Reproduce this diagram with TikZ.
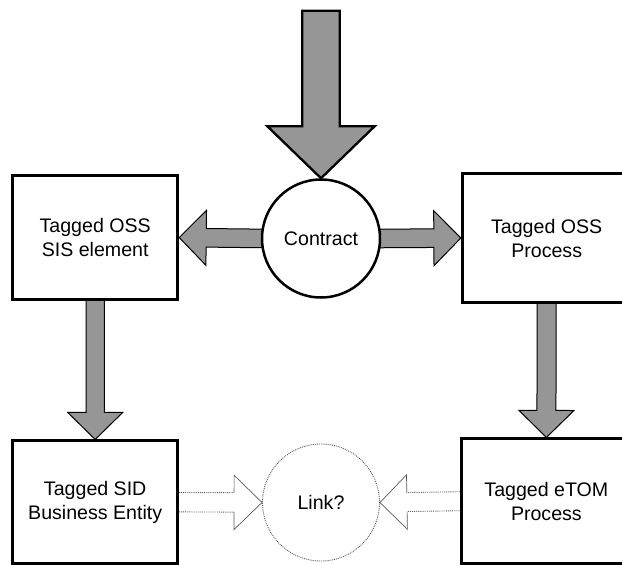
\documentclass[tikz,border=0pt]{standalone}
\usepackage{fontspec}
\setmainfont{Liberation Sans}
\usetikzlibrary{calc,backgrounds}
\definecolor{arrowgray}{RGB}{150,150,150}
\definecolor{dotgray}{RGB}{90,90,90}
\newcommand\labelfont{\fontsize{19.6pt}{24pt}\selectfont}
% #1 style, #2 from, #3 to, #4 shaft half width, #5 head half width, #6 head length
\newcommand\blockarrow[6]{%
  \path[#1] let \p1=(#2), \p2=(#3),
     \n1={atan2(\y2-\y1,\x2-\x1)}, \n2={veclen(\x2-\x1,\y2-\y1)} in
     [shift={(\p1)}, rotate=\n1]
     (0,-#4) -- (\n2-#6,-#4) -- (\n2-#6,-#5) -- (\n2,0) -- (\n2-#6,#5) -- (\n2-#6,#4) -- (0,#4) -- cycle;}
\newcommand\hollowarrow[5]{%
  \path[hollowshaft] let \p1=(#1), \p2=(#2),
     \n1={atan2(\y2-\y1,\x2-\x1)}, \n2={veclen(\x2-\x1,\y2-\y1)} in
     [shift={(\p1)}, rotate=\n1]
     (0,-#3) -- (\n2-#5,-#3) (0,#3) -- (\n2-#5,#3);
  \path[hollowhead] let \p1=(#1), \p2=(#2),
     \n1={atan2(\y2-\y1,\x2-\x1)}, \n2={veclen(\x2-\x1,\y2-\y1)} in
     [shift={(\p1)}, rotate=\n1]
     (\n2-#5,-#3) -- (\n2-#5,-#4) -- (\n2,0) -- (\n2-#5,#4) -- (\n2-#5,#3);}
\begin{document}
\begin{tikzpicture}[x=1pt,y=-1pt,
  box/.style={draw=black, line width=3pt, fill=white, inner sep=0pt,
    align=center, font=\labelfont},
  bigarrow/.style={draw=black, fill=arrowgray, line width=2.3pt, line join=miter},
  medarrow/.style={draw=black, fill=arrowgray, line width=1pt, line join=miter},
  hollowshaft/.style={draw=dotgray, densely dotted, line width=0.9pt},
  hollowhead/.style={draw=dotgray, line width=0.7pt, line join=miter},
  contractnode/.style={circle, draw=black, line width=2.5pt, fill=white,
    minimum size=118pt, inner sep=0pt, font=\labelfont},
  linknode/.style={circle, draw=dotgray, densely dotted, line width=0.9pt,
    fill=white, minimum size=117pt, inner sep=0pt, font=\labelfont}]
\useasboundingbox (0,0) rectangle (622,565);

\node[box, minimum width=165pt, minimum height=123.6pt] (sis) at (95.2,237.5)
  {Tagged OSS\\SIS element};
\node[box, minimum width=168.7pt, minimum height=129.4pt] (proc) at (546.7,238)
  {Tagged OSS\\Process};
\node[box, minimum width=165pt, minimum height=122.5pt] (sid) at (95.2,502.2)
  {Tagged SID\\Business Entity};
\node[box, minimum width=169.3pt, minimum height=124.5pt] (etom) at (546.4,501.2)
  {Tagged eTOM\\Process};
\node[contractnode] (contract) at (321,238.5) {Contract};
\node[linknode] (link) at (321,502.5) {Link?};
\coordinate (topin) at (321,10.7);

\begin{scope}[on background layer]
  \blockarrow{bigarrow}{topin}{contract.north}{18.7}{53.7}{52}
  \blockarrow{medarrow}{$(contract.west)+(6,0)$}{sis.east}{9.3}{27.5}{27}
  \blockarrow{medarrow}{$(contract.east)+(-6,0)$}{proc.west}{9.3}{27.5}{27}
  \blockarrow{medarrow}{$(sis.south)+(0,-6)$}{sid.north}{9.2}{27.5}{27}
  \blockarrow{medarrow}{$(proc.south)+(0,-6)$}{etom.north}{9.5}{27.5}{27}
  \hollowarrow{sid.east}{link.west}{9.7}{27.2}{28}
  \hollowarrow{etom.west}{link.east}{9.5}{27.2}{27}
\end{scope}
\end{tikzpicture}
\end{document}
